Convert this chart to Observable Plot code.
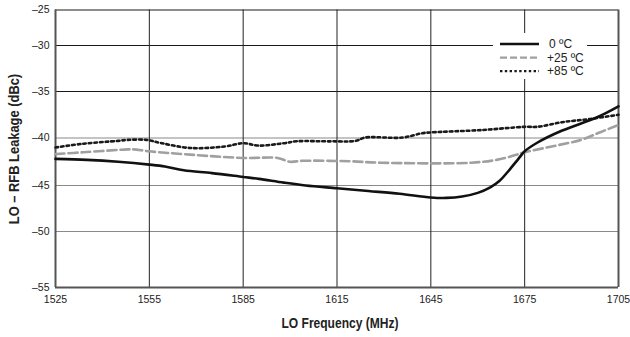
<!DOCTYPE html>
<html>
<head>
<meta charset="utf-8">
<script src="https://cdn.jsdelivr.net/npm/d3@7"></script>
<script src="https://cdn.jsdelivr.net/npm/@observablehq/plot@0.6"></script>
<style>
  html, body { margin: 0; padding: 0; background: #fff; }
  #wrap { position: relative; width: 630px; height: 337px; overflow: hidden;
    font-family: "Liberation Sans", Arial, sans-serif; }
  .ttl { position: absolute; font-weight: bold; font-size: 14px; color: #222; white-space: nowrap; }
  #xt { left: 340px; top: 323px; transform: translate(-50%, -50%) scaleX(0.86); }
  #yt { left: 14px; top: 149px; transform: translate(-50%, -50%) rotate(-90deg) scaleX(0.92); }
  #legend { position: absolute; left: 493px; top: 33px; width: 94px; height: 46px; background: #fff; }
</style>
</head>
<body>
<div id="wrap">
  <div id="chart"></div>
  <div class="ttl" id="xt">LO Frequency (MHz)</div>
  <div class="ttl" id="yt">LO – RFB Leakage (dBc)</div>
  <div id="legend"></div>
</div>
<script>
// ---- data ----
const xTicks = [1525, 1555, 1585, 1615, 1645, 1675, 1705];
const yTicks = [-55, -50, -45, -40, -35, -30, -25];

const seriesNames = ["0 ºC", "+25 ºC", "+85 ºC"];

const freq0 = [1525, 1535, 1545, 1555, 1560, 1566, 1575, 1585, 1590, 1598, 1605, 1615, 1625, 1635, 1645, 1650, 1655, 1660, 1664, 1667, 1670, 1673, 1675, 1679, 1687, 1698, 1705];
const val0  = [-42.2, -42.3, -42.5, -42.8, -43.0, -43.4, -43.7, -44.1, -44.3, -44.7, -45.0, -45.3, -45.6, -45.9, -46.3, -46.35, -46.2, -45.8, -45.2, -44.5, -43.4, -42.2, -41.4, -40.5, -39.2, -37.8, -36.6];

const freq25 = [1525, 1534, 1548, 1550, 1555, 1568, 1585, 1596, 1600, 1604, 1619, 1629, 1658, 1666, 1672, 1675, 1685, 1693, 1699, 1705];
const val25  = [-41.7, -41.5, -41.2, -41.2, -41.4, -41.75, -42.1, -42.1, -42.5, -42.4, -42.45, -42.6, -42.6, -42.3, -41.8, -41.5, -40.8, -40.2, -39.4, -38.6];

const freq85 = [1525, 1534, 1545, 1548, 1554, 1559, 1568, 1579, 1585, 1590, 1598, 1602, 1613, 1621, 1624, 1636, 1642, 1645, 1661, 1675, 1679, 1687, 1696, 1705];
const val85  = [-41.0, -40.6, -40.3, -40.2, -40.2, -40.55, -41.05, -40.9, -40.55, -40.8, -40.55, -40.35, -40.35, -40.3, -39.95, -39.95, -39.5, -39.4, -39.15, -38.8, -38.8, -38.3, -37.95, -37.5];

// ---- build ----
const toRows = (fs, vs) => fs.map((f, i) => ({f, v: vs[i]}));
const d0 = toRows(freq0, val0), d25 = toRows(freq25, val25), d85 = toRows(freq85, val85);

// the reference's vertical spacing is uneven; reproduce via a piecewise transform of the y scale
const yPix = [287, 231, 185, 137.5, 91, 45, 9.5];
const yWarp = d3.scaleLinear().domain(yTicks).range(yPix.map(p => -p));

const styles = [
  {stroke: "#111", strokeWidth: 2.6, dash: null},
  {stroke: "#a0a0a0", strokeWidth: 2.6, dash: "9,4"},
  {stroke: "#1a1a1a", strokeWidth: 2.6, dash: "2.6,3"}
];
const fmtY = d => (d < 0 ? "–" + Math.abs(d) : String(d));

const chart = Plot.plot({
  width: 630, height: 337,
  marginLeft: 55, marginRight: 12, marginTop: 9.5, marginBottom: 50,
  style: {fontFamily: '"Liberation Sans", Arial, sans-serif', fontSize: "10.5px", color: "#222", background: "transparent"},
  x: {domain: [1525, 1705], range: [55, 618], ticks: xTicks, tickSize: 0, tickPadding: 8, tickFormat: d => String(d), label: null},
  y: {transform: yWarp, domain: [-287, -9.5], range: [287, 9.5], axis: null},
  marks: [
    Plot.ruleY(yTicks.filter(d => d >= -35), {stroke: "#1a1a1a", strokeWidth: 1}),
    Plot.ruleY(yTicks.filter(d => d < -35 && d > -55), {stroke: "#8a8a8a", strokeWidth: 1.2}),
    Plot.ruleX(xTicks.slice(1, -1), {stroke: "#222", strokeWidth: 1}),
    Plot.ruleX([xTicks[0], xTicks[xTicks.length - 1]], {stroke: "#555", strokeWidth: 2}),
    Plot.ruleY([yTicks[0]], {stroke: "#555", strokeWidth: 2}),
    Plot.text(yTicks, {y: d => d, text: fmtY, frameAnchor: "left", textAnchor: "end", dx: -6, fill: "#222"}),
    Plot.line(d25, {x: "f", y: "v", stroke: styles[1].stroke, strokeWidth: styles[1].strokeWidth, strokeDasharray: styles[1].dash, curve: "catmull-rom"}),
    Plot.line(d85, {x: "f", y: "v", stroke: styles[2].stroke, strokeWidth: styles[2].strokeWidth, strokeDasharray: styles[2].dash, curve: "catmull-rom"}),
    Plot.line(d0, {x: "f", y: "v", stroke: styles[0].stroke, strokeWidth: styles[0].strokeWidth, curve: "catmull-rom"})
  ]
});
document.getElementById("chart").appendChild(chart);

// ---- legend ----
const ns = "http://www.w3.org/2000/svg";
const lg = document.createElementNS(ns, "svg");
lg.setAttribute("width", 94); lg.setAttribute("height", 46);
seriesNames.forEach((name, i) => {
  const y = 11 + i * 13.6;
  const ln = document.createElementNS(ns, "line");
  ln.setAttribute("x1", 7); ln.setAttribute("x2", 46);
  ln.setAttribute("y1", y); ln.setAttribute("y2", y);
  ln.setAttribute("stroke", styles[i].stroke);
  ln.setAttribute("stroke-width", i === 0 ? 2.4 : 2.2);
  if (styles[i].dash) ln.setAttribute("stroke-dasharray", i === 1 ? "7,3" : "2.4,2.4");
  lg.appendChild(ln);
  const tx = document.createElementNS(ns, "text");
  tx.setAttribute("x", i === 0 ? 56 : 54);
  tx.setAttribute("y", y + 4);
  tx.setAttribute("font-size", "12px");
  tx.setAttribute("fill", "#222");
  tx.setAttribute("font-family", '"Liberation Sans", Arial, sans-serif');
  tx.textContent = name;
  lg.appendChild(tx);
});
document.getElementById("legend").appendChild(lg);
</script>
</body>
</html>
